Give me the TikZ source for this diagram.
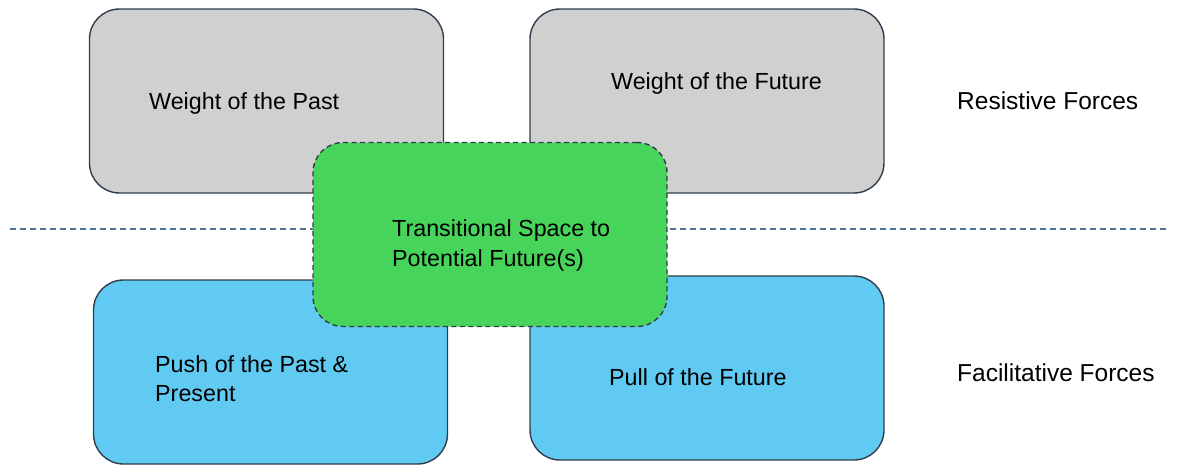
\documentclass[tikz,border=0pt]{standalone}
\usepackage{fontspec}
\setmainfont{Liberation Sans}
\definecolor{edge}{HTML}{2F3D4C}
\definecolor{greyfill}{HTML}{D0D0D0}
\definecolor{greenfill}{HTML}{47D45A}
\definecolor{bluefill}{HTML}{60CAF2}
\definecolor{dashline}{HTML}{4F7290}
\tikzset{
  boxbase/.style={draw=edge, line width=1.4pt, rounded corners=30pt, minimum width=354pt, minimum height=184pt, inner sep=0pt},
  greybox/.style={boxbase, fill=greyfill},
  bluebox/.style={boxbase, fill=bluefill},
  greenbox/.style={boxbase, fill=greenfill, dashed, dash pattern=on 5pt off 3.5pt},
  lbl/.style={anchor=west, align=left, inner sep=0pt, font=\fontsize{23.3}{29.5}\selectfont, text=black},
  sidelbl/.style={anchor=west, inner sep=0pt, font=\fontsize{24.5}{28}\selectfont, text=black},
}
\begin{document}
\begin{tikzpicture}[x=1pt,y=-1pt]
\useasboundingbox (0,0) rectangle (1181,464);
\node[greybox] (wpast) at (266.5,101) {};
\node[greybox] (wfut) at (707,101) {};
\node[bluebox] (push) at (270.5,372) {};
\node[bluebox] (pull) at (707,368) {};
\coordinate (dl) at (10,229);
\coordinate (dr) at (1166,229);
\draw[dashline, line width=1.3pt, dash pattern=on 6pt off 4pt] (dl) -- (dr);
\node[greenbox] (trans) at (490,234.5) {};
\node[lbl] (twpast) at (149,103) {Weight of the Past};
\node[lbl] (twfut) at (611,83) {Weight of the Future};
\node[lbl] (ttrans) at (392,245.5) {Transitional Space to\\Potential Future(s)};
\node[lbl] (tpush) at (155,378.5) {Push of the Past \&\\Present};
\node[lbl] (tpull) at (609,377) {Pull of the Future};
\node[sidelbl] (res) at (957,101) {Resistive Forces};
\node[sidelbl] (fac) at (957,373) {Facilitative Forces};
\end{tikzpicture}
\end{document}
